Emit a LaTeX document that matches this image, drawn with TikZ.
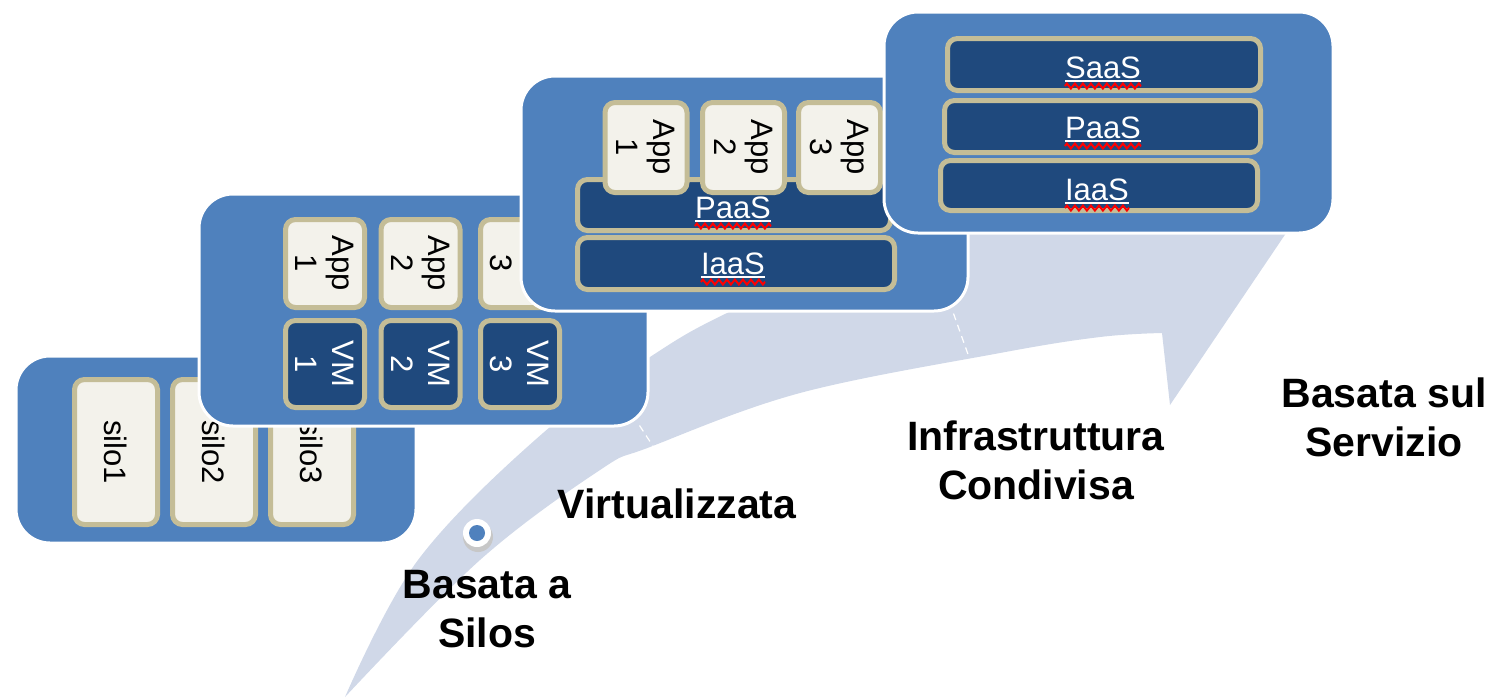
\documentclass[tikz,border=0pt]{standalone}
\usepackage{fontspec}
\setmainfont{Liberation Sans}
\usetikzlibrary{positioning,decorations.pathmorphing}

\definecolor{stageblue}{HTML}{4F81BD}
\definecolor{layernavy}{HTML}{1F497D}
\definecolor{tileedge}{HTML}{C4BD97}
\definecolor{tilecream}{HTML}{F3F2EB}
\definecolor{pathblue}{HTML}{D0D8E8}

\tikzset{
  stage/.style={draw=white, line width=3pt, fill=stageblue, rounded corners=34pt, inner sep=0pt},
  tile/.style={draw=tileedge, line width=5pt, rounded corners=10pt, rotate=-90, align=center,
    inner sep=0pt, font=\fontsize{31}{37}\selectfont},
  apptile/.style={tile, fill=tilecream, text=black},
  vmtile/.style={tile, fill=layernavy, text=white},
  layer/.style={draw=tileedge, line width=5pt, rounded corners=10pt, fill=layernavy, inner sep=0pt},
  layertext/.style={text=white, inner sep=0pt, anchor=base, font=\fontsize{31}{37}\selectfont},
  squiggle/.style={draw=red, line width=2pt, decorate,
    decoration={zigzag, amplitude=2.5pt, segment length=8pt}},
  steplabel/.style={font=\fontsize{41}{49}\selectfont\bfseries, align=center, inner sep=0pt},
}

\begin{document}
\begin{tikzpicture}[x=1pt,y=-1pt]
\useasboundingbox (0,0) rectangle (1490,697);

% ascending arrow behind the stages
\fill[pathblue] plot[smooth, tension=0.6] coordinates {(345,697) (480,560) (600,470) (650,447) (800,393) (1000,353) (1100,337) (1162,333)}
  -- (1170,405) -- (1305,205) -- (1150,110) -- (1150,175)
  -- plot[smooth, tension=0.6] coordinates {(1150,175) (1000,200) (880,245) (727,313) (650,357) (543,433) (418,560) (345,697)}
  -- cycle;

% start marker
\fill[black!22] (478,537) circle (15pt);
\node[circle, fill=white, minimum size=28pt, inner sep=0pt] (dot) at (477,533) {};
\fill[stageblue] (dot) circle (8pt);

% stage 1: silos
\node[stage, minimum width=400pt, minimum height=187pt] (st1) at (216,449.5) {};
\node[apptile, minimum width=145pt, minimum height=83pt] (silo1) at (116,452) {silo1};
\node[apptile, minimum width=145pt, minimum height=83pt] (silo2) at (214,452) {silo2};
\node[apptile, minimum width=145pt, minimum height=83pt] (silo3) at (312,452) {silo3};

% stage 2: apps on virtual machines
\node[stage, minimum width=449pt, minimum height=232pt] (st2) at (423.5,310) {};
\node[apptile, minimum width=88pt, minimum height=79pt] (a21) at (325,263.5) {App\\1};
\node[apptile, minimum width=88pt, minimum height=79pt] (a22) at (420.5,263.5) {App\\2};
\node[apptile, minimum width=88pt, minimum height=79pt] (a23) at (520,263.5) {App\\3};
\node[vmtile, minimum width=87pt, minimum height=79pt] (v21) at (325,364) {VM\\1};
\node[vmtile, minimum width=87pt, minimum height=79pt] (v22) at (420.5,364) {VM\\2};
\node[vmtile, minimum width=87pt, minimum height=79pt] (v23) at (520,364) {VM\\3};
\draw[white, line width=1.2pt, dash pattern=on 7pt off 5pt] ([xshift=-10pt,yshift=2pt]st2.south east) -- ++(17,26);

% stage 3: shared infrastructure
\node[stage, minimum width=447pt, minimum height=235pt] (st3) at (744.5,193.5) {};
\node[layer, minimum width=313pt, minimum height=51pt] (p3) at (734,205) {};
\node[layer, minimum width=317pt, minimum height=52pt] (i3) at (736,263.5) {};
\node[apptile, minimum width=90pt, minimum height=82pt] (a31) at (646,147.5) {App\\1};
\node[apptile, minimum width=90pt, minimum height=82pt] (a32) at (743.5,147.5) {App\\2};
\node[apptile, minimum width=90pt, minimum height=82pt] (a33) at (839.5,147.5) {App\\3};
\node[layertext] (tp3) at (733,218) {PaaS};
\node[layertext] (ti3) at (733,274) {IaaS};
\draw[white, line width=1.5pt] ([yshift=-3pt]tp3.base west) -- ([yshift=-3pt]tp3.base east);
\draw[squiggle] ([yshift=-8pt]tp3.base west) -- ([yshift=-8pt]tp3.base east);
\draw[white, line width=1.5pt] ([yshift=-3pt]ti3.base west) -- ([yshift=-3pt]ti3.base east);
\draw[squiggle] ([yshift=-8pt]ti3.base west) -- ([yshift=-8pt]ti3.base east);
\draw[white, line width=1.2pt, dash pattern=on 7pt off 5pt] ([xshift=-16pt,yshift=-1pt]st3.south east) -- ++(16,45);

% stage 4: service stack
\node[stage, minimum width=449pt, minimum height=221pt] (st4) at (1108.5,122.5) {};
\node[layer, minimum width=313pt, minimum height=52pt] (s4) at (1104,64.5) {};
\node[layer, minimum width=316pt, minimum height=52pt] (p4) at (1102.5,126.5) {};
\node[layer, minimum width=317pt, minimum height=50pt] (i4) at (1099,185.5) {};
\node[layertext] (ts4) at (1103,78) {SaaS};
\node[layertext] (tp4) at (1103,138) {PaaS};
\node[layertext] (ti4) at (1097,200) {IaaS};
\draw[white, line width=1.5pt] ([yshift=-3pt]ts4.base west) -- ([yshift=-3pt]ts4.base east);
\draw[squiggle] ([yshift=-8pt]ts4.base west) -- ([yshift=-8pt]ts4.base east);
\draw[white, line width=1.5pt] ([yshift=-3pt]tp4.base west) -- ([yshift=-3pt]tp4.base east);
\draw[squiggle] ([yshift=-8pt]tp4.base west) -- ([yshift=-8pt]tp4.base east);
\draw[white, line width=1.5pt] ([yshift=-3pt]ti4.base west) -- ([yshift=-3pt]ti4.base east);
\draw[squiggle] ([yshift=-8pt]ti4.base west) -- ([yshift=-8pt]ti4.base east);

% stage names along the arrow
\node[steplabel] (lab1) at (487,609) {Basata a\\Silos};
\node[steplabel, anchor=base] (lab2) at (677,518) {Virtualizzata};
\node[steplabel] (lab3) at (1036,460) {Infrastruttura\\Condivisa};
\node[steplabel] (lab4) at (1384,417) {Basata sul\\Servizio};
\end{tikzpicture}
\end{document}
